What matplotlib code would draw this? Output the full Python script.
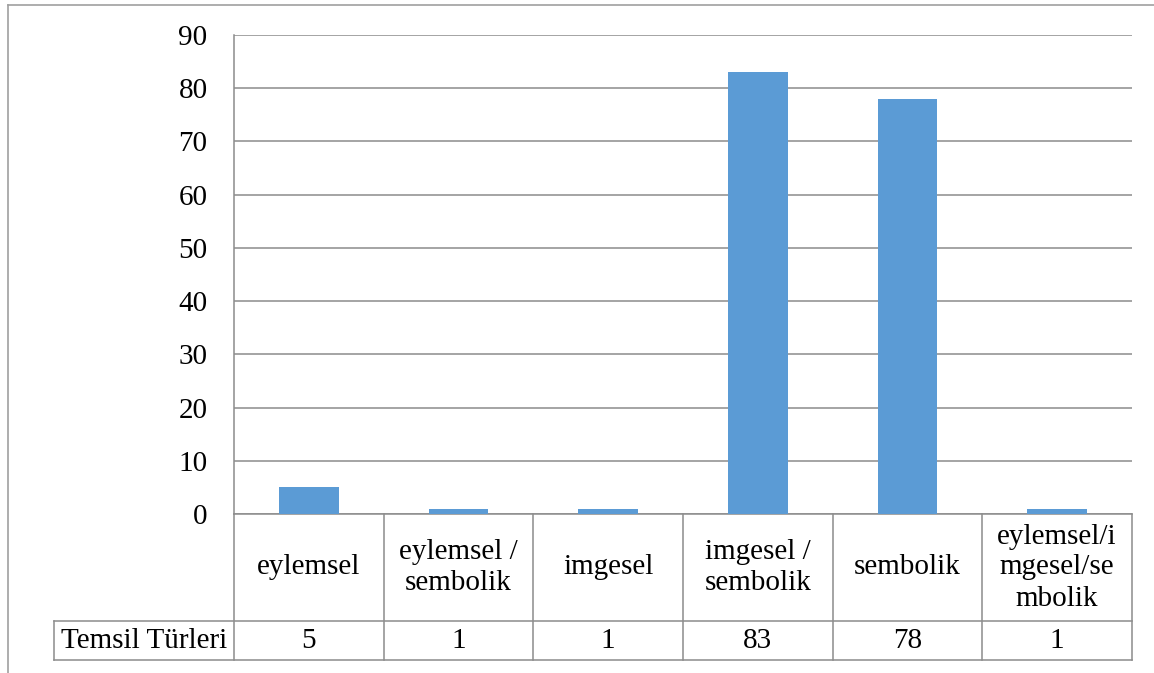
import matplotlib.pyplot as plt
from matplotlib.lines import Line2D

plt.rcParams['font.family'] = ['Liberation Serif', 'DejaVu Serif']

categories = ['eylemsel', 'eylemsel /\nsembolik', 'imgesel', 'imgesel /\nsembolik',
              'sembolik', 'eylemsel/i\nmgesel/se\nmbolik']
values = [5, 1, 1, 83, 78, 1]
series_name = 'Temsil Türleri'
y_ticks = list(range(0, 100, 10))

bar_color = '#5B9BD5'
line_color = '#8c8c8c'
fs = 21

fig = plt.figure(figsize=(11.54, 6.73), dpi=100)
W, H = 1154, 673

# plot area in pixels: left, top, right, bottom
L, T, R, B = 234, 35, 1132, 514
ax = fig.add_axes([L / W, 1 - B / H, (R - L) / W, (B - T) / H])

x = list(range(len(values)))
ax.bar(x, values, width=0.4, color=bar_color, zorder=3)
ax.set_xlim(-0.5, len(values) - 0.5)
ax.set_ylim(0, 90)
ax.set_yticks(y_ticks)
ax.set_yticklabels([str(v) for v in y_ticks], fontsize=fs)
ax.tick_params(axis='y', length=0, pad=19)
ax.set_xticks([])
ax.yaxis.grid(True, color=line_color, linewidth=1.1)
ax.set_axisbelow(True)
for s in ['top', 'right']:
    ax.spines[s].set_visible(False)
for s in ['left', 'bottom']:
    ax.spines[s].set_color(line_color)
    ax.spines[s].set_linewidth(1.1)

# data table under the axis
tr = ax.get_xaxis_transform()
ph = B - T
row1 = -107 / ph
row2 = row1 - 39 / ph
unit = (R - L) / len(values)
head_left = -0.5 - (L - 54) / unit
right = len(values) - 0.5

def seg(x0, x1, y0, y1):
    ax.add_line(Line2D([x0, x1], [y0, y1], transform=tr, color=line_color,
                       linewidth=1.1, clip_on=False))

seg(-0.5, -0.5, 0, row2)
for i in range(len(values)):
    seg(i + 0.5, i + 0.5, 0, row2)
seg(head_left, right, row1, row1)
seg(head_left, right, row2, row2)
seg(head_left, head_left, row1, row2)

for i, (c, v) in enumerate(zip(categories, values)):
    ax.text(i, row1 / 2, c, transform=tr, ha='center', va='center',
            fontsize=fs, linespacing=1.25)
    ax.text(i, (row1 + row2) / 2, str(v), transform=tr, ha='center',
            va='center', fontsize=fs)
ax.text((head_left - 0.5) / 2, (row1 + row2) / 2, series_name, transform=tr,
        ha='center', va='center', fontsize=fs)

# page frame lines
fig.add_artist(Line2D([8 / W, 8 / W], [0, 1 - 5 / H], transform=fig.transFigure,
                      color='#a0a0a0', linewidth=1.2))
fig.add_artist(Line2D([8 / W, 1], [1 - 5 / H, 1 - 5 / H], transform=fig.transFigure,
                      color='#a0a0a0', linewidth=1.2))

fig.savefig('out.png', dpi=100)
